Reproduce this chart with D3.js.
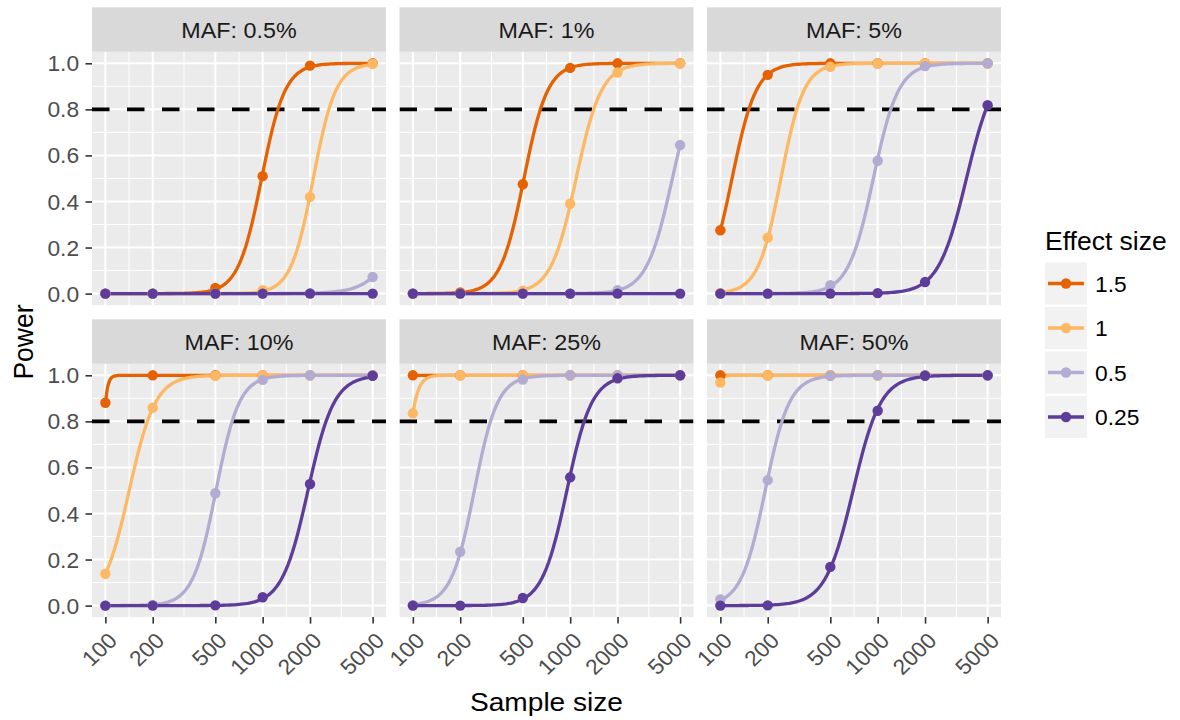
<!DOCTYPE html>
<html>
<head>
<meta charset="utf-8">
<script src="https://cdn.jsdelivr.net/npm/d3@7"></script>
<style>
  html, body { margin: 0; padding: 0; background: #ffffff; }
  svg { display: block; }
  text { font-family: "Liberation Sans", Arial, Helvetica, sans-serif; }
</style>
</head>
<body>
<svg id="chart" width="1180" height="720"></svg>
<script>
// ---------------- data ----------------
const sampleSizes = [100, 200, 500, 1000, 2000, 5000];
const xTickLabels = ["100", "200", "500", "1000", "2000", "5000"];
const yTicks = [0, 0.2, 0.4, 0.6, 0.8, 1.0];
const yTickLabels = ["0.0", "0.2", "0.4", "0.6", "0.8", "1.0"];
const effectSizes = ["1.5", "1", "0.5", "0.25"];
const mafLabels = ["MAF: 0.5%", "MAF: 1%", "MAF: 5%", "MAF: 10%", "MAF: 25%", "MAF: 50%"];
const powerThreshold = 0.8;

// power per panel: rows = effect sizes (1.5, 1, 0.5, 0.25), columns = sample sizes
const powerMAF0_5 = [
  [0, 0, 0.025, 0.51, 0.99, 1.0],
  [0, 0, 0, 0.015, 0.42, 0.998],
  [0, 0, 0, 0, 0.002, 0.072],
  [0, 0, 0, 0, 0, 0]
];
const powerMAF1 = [
  [0, 0.005, 0.475, 0.98, 1.0, 1.0],
  [0, 0, 0.012, 0.39, 0.96, 1.0],
  [0, 0, 0, 0, 0.015, 0.645],
  [0, 0, 0, 0, 0, 0]
];
const powerMAF5 = [
  [0.275, 0.95, 1, 1, 1, 1],
  [0.003, 0.243, 0.985, 1, 1, 1],
  [0, 0, 0.036, 0.577, 0.988, 1.0],
  [0, 0, 0, 0.002, 0.05, 0.818]
];
const powerMAF10 = [
  [0.881, 1, 1, 1, 1, 1],
  [0.138, 0.859, 0.998, 1, 1, 1],
  [0, 0.003, 0.488, 0.98, 1, 1],
  [0, 0, 0.001, 0.036, 0.528, 0.998]
];
const powerMAF25 = [
  [1, 1, 1, 1, 1, 1],
  [0.835, 0.99998, 1, 1, 1, 1],
  [0.002, 0.234, 0.982, 1, 1, 1],
  [0, 0, 0.033, 0.557, 0.987, 1]
];
const powerMAF50 = [
  [1, 1, 1, 1, 1, 1],
  [0.969, 1, 1, 1, 1, 1],
  [0.027, 0.545, 0.998, 1, 1, 1],
  [0, 0.001, 0.168, 0.846, 0.998, 1]
];
const panelPower = [powerMAF0_5, powerMAF1, powerMAF5, powerMAF10, powerMAF25, powerMAF50];

// ---------------- styles / layout ----------------
const colors = ["#e66101", "#fdb863", "#b2abd2", "#5e3c99"];
const FONT = '"Liberation Sans", Arial, Helvetica, sans-serif';
const SX = 1.06; // horizontal text stretch
const panelW = 294, panelH = 253.3, stripH = 44.5;
const colX = [92, 399.5, 707];
const rowTop = [7.3, 319.3];

const svg = d3.select("#chart");

const expand = Math.pow(5000 / 100, 0.05);
const x = d3.scaleLog().domain([100 / expand, 5000 * expand]).range([0, panelW]);
const y = d3.scaleLinear().domain([-0.05, 1.05]).range([panelH, 0]);

// minor breaks: midpoints (in transformed space) between major breaks
const xMinor = d3.pairs(sampleSizes).map(([a, b]) => Math.sqrt(a * b));
const yMinor = d3.pairs(yTicks).map(([a, b]) => (a + b) / 2);

function addText(sel, tx, ty, str, size, fill, anchor, rot) {
  return sel.append("text")
    .attr("transform", `translate(${tx},${ty}) scale(${SX},1)` + (rot ? ` rotate(${rot})` : ""))
    .attr("text-anchor", anchor || "start")
    .attr("font-size", size).attr("fill", fill)
    .text(str);
}

// ---------------- logistic smoother (binomial glm, IRLS like R) ----------------
const EPS = 2.220446049250313e-16, INVEPS = 1 / EPS;
function linkinv(eta) {
  const t = eta < -30 ? EPS : (eta > 30 ? INVEPS : Math.exp(eta));
  return t / (1 + t);
}
function muEta(eta) {
  const o = 1 + Math.exp(eta);
  return (eta > 30 || eta < -30) ? EPS : Math.exp(eta) / (o * o);
}
function ylogy(yv, m) { return yv > 0 ? yv * Math.log(yv / m) : 0; }
function deviance(ys, mus) {
  return 2 * d3.sum(ys, (yv, i) => ylogy(yv, mus[i]) + ylogy(1 - yv, 1 - mus[i]));
}
function fitLogistic(xs, ys) {
  let mu = ys.map(v => (v + 0.5) / 2);
  let eta = mu.map(m => Math.log(m / (1 - m)));
  let devold = deviance(ys, mu);
  let a = 0, b = 0;
  for (let it = 0; it < 25; it++) {
    let sw = 0, swx = 0, swxx = 0, swz = 0, swxz = 0;
    for (let i = 0; i < xs.length; i++) {
      const me = muEta(eta[i]);
      const v = Math.max(mu[i] * (1 - mu[i]), 1e-300);
      const z = eta[i] + (ys[i] - mu[i]) / me;
      const w = me * me / v;
      sw += w; swx += w * xs[i]; swxx += w * xs[i] * xs[i];
      swz += w * z; swxz += w * xs[i] * z;
    }
    const det = sw * swxx - swx * swx;
    const nb = (sw * swxz - swx * swz) / det;
    const na = (swz - nb * swx) / sw;
    if (!isFinite(na) || !isFinite(nb)) break;
    a = na; b = nb;
    eta = xs.map(xv => a + b * xv);
    mu = eta.map(linkinv);
    const dev = deviance(ys, mu);
    if (Math.abs(dev - devold) / (Math.abs(dev) + 0.1) < 1e-8) break;
    devold = dev;
  }
  return xv => linkinv(a + b * xv);
}

const logX = sampleSizes.map(v => Math.log10(v));
const curveGrid = d3.range(0, 121).map(i => Math.log10(100) + i / 120 * (Math.log10(5000) - Math.log10(100)));

const line = d3.line().x(d => x(Math.pow(10, d[0]))).y(d => y(d[1]));

// ---------------- panels ----------------
panelPower.forEach((pw, pi) => {
  const col = pi % 3, row = Math.floor(pi / 3);
  const g = svg.append("g").attr("transform", `translate(${colX[col]},${rowTop[row]})`);

  // strip
  g.append("rect").attr("width", panelW).attr("height", stripH).attr("fill", "#d9d9d9");
  addText(g, panelW / 2, stripH / 2 + 8.3, mafLabels[pi], 22, "#1a1a1a", "middle");

  const p = g.append("g").attr("transform", `translate(0,${stripH})`);
  p.append("rect").attr("width", panelW).attr("height", panelH).attr("fill", "#ebebeb");

  const clipId = "clip" + pi;
  p.append("clipPath").attr("id", clipId).append("rect").attr("width", panelW).attr("height", panelH);

  // grid
  const grid = p.append("g");
  grid.selectAll(".xmin").data(xMinor).join("line")
    .attr("x1", d => x(d)).attr("x2", d => x(d)).attr("y1", 0).attr("y2", panelH)
    .attr("stroke", "#ffffff").attr("stroke-width", 1);
  grid.selectAll(".ymin").data(yMinor).join("line")
    .attr("x1", 0).attr("x2", panelW).attr("y1", d => y(d)).attr("y2", d => y(d))
    .attr("stroke", "#ffffff").attr("stroke-width", 1);
  grid.selectAll(".xmaj").data(sampleSizes).join("line")
    .attr("x1", d => x(d)).attr("x2", d => x(d)).attr("y1", 0).attr("y2", panelH)
    .attr("stroke", "#ffffff").attr("stroke-width", 2);
  grid.selectAll(".ymaj").data(yTicks).join("line")
    .attr("x1", 0).attr("x2", panelW).attr("y1", d => y(d)).attr("y2", d => y(d))
    .attr("stroke", "#ffffff").attr("stroke-width", 2);

  const plot = p.append("g").attr("clip-path", `url(#${clipId})`);

  // threshold
  plot.append("line")
    .attr("x1", 0).attr("x2", panelW)
    .attr("y1", y(powerThreshold)).attr("y2", y(powerThreshold))
    .attr("stroke", "#000000").attr("stroke-width", 3.6)
    .attr("stroke-dasharray", "17.5,17.5");

  // smooth curves
  pw.forEach((vals, si) => {
    const f = fitLogistic(logX, vals);
    const pts = curveGrid.map(lx => [lx, f(lx)]);
    plot.append("path").attr("d", line(pts))
      .attr("fill", "none").attr("stroke", colors[si]).attr("stroke-width", 3.3)
      .attr("stroke-linejoin", "round").attr("stroke-linecap", "butt");
  });
  // points
  pw.forEach((vals, si) => {
    plot.selectAll(null).data(vals.map((v, k) => [sampleSizes[k], v])).join("circle")
      .attr("cx", d => x(d[0])).attr("cy", d => y(d[1])).attr("r", 5.2)
      .attr("fill", colors[si]);
  });

  // y axis
  if (col === 0) {
    const ax = p.append("g").call(
      d3.axisLeft(y).tickValues(yTicks).tickFormat((d, i) => yTickLabels[i]).tickSize(6.5).tickPadding(6.2)
    );
    ax.select(".domain").remove();
    ax.selectAll(".tick line").attr("stroke", "#333333").attr("stroke-width", 1.6);
    ax.selectAll(".tick text").attr("font-size", 21.5).attr("fill", "#4d4d4d")
      .attr("font-family", FONT).attr("x", 0).attr("dy", "0.35em")
      .attr("transform", `translate(-12.9,0) scale(${SX},1)`);
  }
  // x axis
  if (row === 1) {
    const ax = p.append("g").attr("transform", `translate(0,${panelH})`).call(
      d3.axisBottom(x).tickValues(sampleSizes).tickFormat((d, i) => xTickLabels[i]).tickSize(6.5)
    );
    ax.select(".domain").remove();
    ax.selectAll(".tick line").attr("stroke", "#333333").attr("stroke-width", 1.6);
    ax.selectAll(".tick text")
      .attr("font-size", 21.5).attr("fill", "#4d4d4d").attr("font-family", FONT)
      .attr("x", 0).attr("y", 0).attr("dy", null)
      .attr("text-anchor", "end")
      .attr("transform", `translate(12.5,25) scale(${SX},1) rotate(-45)`);
  }
});

// ---------------- axis titles ----------------
addText(svg, (colX[0] + colX[2] + panelW) / 2, 711, "Sample size", 26.5, "#000", "middle");
addText(svg, 33, 342, "Power", 26.5, "#000", "middle", -90);

// ---------------- legend ----------------
const lg = svg.append("g").attr("transform", "translate(1045,0)");
addText(lg, 0, 250, "Effect size", 25, "#000", "start");
effectSizes.forEach((es, i) => {
  const top = 262.5 + i * 44.5;
  const cy = top + 21;
  lg.append("rect").attr("x", 0).attr("y", top).attr("width", 42).attr("height", 42).attr("fill", "#f2f2f2");
  lg.append("line").attr("x1", 3).attr("x2", 39).attr("y1", cy).attr("y2", cy)
    .attr("stroke", colors[i]).attr("stroke-width", 3.3);
  lg.append("circle").attr("cx", 21).attr("cy", cy).attr("r", 5.2).attr("fill", colors[i]);
  addText(lg, 50, cy + 8, es, 21.5, "#000", "start");
});
</script>
</body>
</html>
